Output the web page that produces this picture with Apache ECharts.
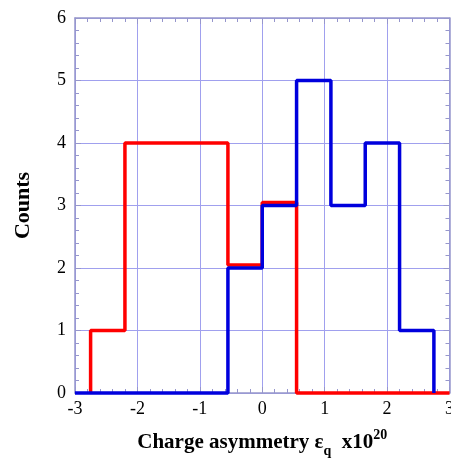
<!DOCTYPE html>
<html><head><meta charset="utf-8">
<script src="https://cdn.jsdelivr.net/npm/echarts@6/dist/echarts.min.js"></script>
<style>html,body{margin:0;padding:0;background:#fff}#c{width:451px;height:460px}</style>
</head><body><div id="c"></div>
<script>
// Histogram data
const redEdges = [-2.75, -2.2, -1.65, -1.1, -0.55, 0, 0.55];
const redCounts = [1, 4, 4, 4, 2.05, 3.05];
const blueEdges = [-0.55, 0, 0.55, 1.1, 1.65, 2.2, 2.75];
const blueCounts = [2, 3, 5, 3, 4, 1];
const xTicks = [-3, -2, -1, 0, 1, 2, 3];
const yTicks = [0, 1, 2, 3, 4, 5, 6];

function stepPoints(edges, counts, startX, endX) {
  const pts = [];
  if (startX !== null) pts.push([startX, 0]);
  pts.push([edges[0], 0]);
  for (let i = 0; i < counts.length; i++) {
    pts.push([edges[i], counts[i]]);
    pts.push([edges[i + 1], counts[i]]);
  }
  pts.push([edges[edges.length - 1], 0]);
  if (endX !== null) pts.push([endX, 0]);
  return pts;
}

const font = '"Liberation Serif", "Times New Roman", serif';
const gridColor = '#a0a0ee';
const frameColor = '#9696cc';
const chart = echarts.init(document.getElementById('c'), null, {renderer: 'canvas'});
const minorTick = {show: true, splitNumber: 5, length: 4, lineStyle: {color: frameColor, width: 1}};
chart.setOption({
  animation: false,
  grid: {left: 75, right: 1.5, top: 18, bottom: 67, outerBoundsMode: 'none', containLabel: false},
  xAxis: [{
    type: 'value', min: -3, max: 3, interval: 1,
    axisLine: {show: true, onZero: false, lineStyle: {color: frameColor, width: 1.5}},
    axisTick: {show: true, inside: true, length: 6, lineStyle: {color: frameColor}},
    minorTick: minorTick,
    splitLine: {show: true, lineStyle: {color: gridColor, width: 1}},
    axisLabel: {fontFamily: font, fontSize: 18, color: '#000', margin: 7,
      formatter: v => xTicks.includes(v) ? String(v) : ''},
    name: '{a|Charge asymmetry ε}{s|q}{a|  x10}{p|20}',
    nameLocation: 'middle', nameGap: 35,
    nameTextStyle: {
      rich: {
        a: {fontFamily: font, fontSize: 21, fontWeight: 'bold', color: '#000', lineHeight: 30},
        s: {fontFamily: font, fontSize: 14, fontWeight: 'bold', color: '#000', verticalAlign: 'bottom'},
        p: {fontFamily: font, fontSize: 14, fontWeight: 'bold', color: '#000', verticalAlign: 'top'}
      }
    }
  }, {
    type: 'value', min: -3, max: 3, interval: 1, position: 'top',
    axisLine: {show: true, onZero: false, lineStyle: {color: frameColor, width: 1.5}},
    axisTick: {show: true, inside: true, length: 6, lineStyle: {color: frameColor}},
    minorTick: minorTick,
    splitLine: {show: false}, axisLabel: {show: false}
  }],
  yAxis: [{
    type: 'value', min: 0, max: 6, interval: 1,
    axisLine: {show: true, onZero: false, lineStyle: {color: frameColor, width: 1.5}},
    axisTick: {show: true, inside: true, length: 6, lineStyle: {color: frameColor}},
    minorTick: minorTick,
    splitLine: {show: true, lineStyle: {color: gridColor, width: 1}},
    axisLabel: {fontFamily: font, fontSize: 18, color: '#000', margin: 9,
      formatter: v => yTicks.includes(v) ? String(v) : ''},
    name: 'Counts', nameLocation: 'middle', nameGap: 41,
    nameTextStyle: {fontFamily: font, fontSize: 22, fontWeight: 'bold', color: '#000'}
  }, {
    type: 'value', min: 0, max: 6, interval: 1, position: 'right',
    axisLine: {show: true, onZero: false, lineStyle: {color: frameColor, width: 1.5}},
    axisTick: {show: true, inside: true, length: 6, lineStyle: {color: frameColor}},
    minorTick: minorTick,
    splitLine: {show: false}, axisLabel: {show: false}
  }],
  series: [{
    type: 'line', name: 'red', data: stepPoints(redEdges, redCounts, null, 3),
    showSymbol: false, lineStyle: {color: '#ff0000', width: 3.5}, z: 3, clip: false
  }, {
    type: 'line', name: 'blue', data: stepPoints(blueEdges, blueCounts, -3, null),
    showSymbol: false, lineStyle: {color: '#0000dd', width: 3.5}, z: 4, clip: false
  }]
});
</script></body></html>
